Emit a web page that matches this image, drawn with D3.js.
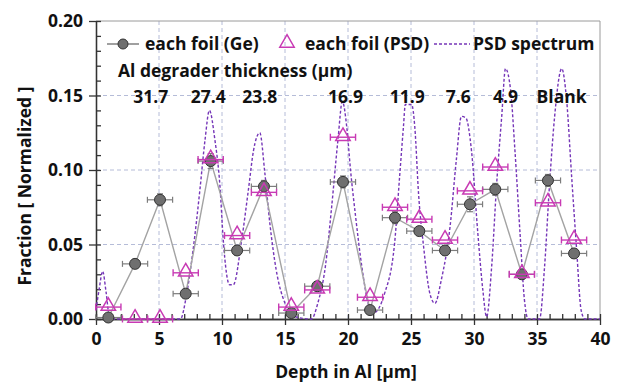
<!DOCTYPE html>
<html>
<head>
<meta charset="utf-8">
<script src="https://cdn.jsdelivr.net/npm/d3@7"></script>
<style>
  body { margin: 0; background: #fff; }
  text { font-family: "Open Sans", "Noto Sans", sans-serif; font-weight: 700; fill: #111; }
</style>
</head>
<body>
<div id="container"></div>
<script>
// depth positions of each foil (µm) and measured fractions
const depth = [0.98, 3.1, 5.08, 7.12, 9.1, 11.2, 13.33, 15.5, 17.56, 19.6, 21.75, 23.73, 25.66, 27.7, 29.68, 31.69, 33.8, 35.87, 37.94];
const geFrac = [0.001, 0.037, 0.080, 0.017, 0.106, 0.046, 0.089, 0.004, 0.022, 0.092, 0.006, 0.068, 0.059, 0.046, 0.077, 0.087, 0.030, 0.093, 0.044];
const geErr = [0.002, 0.003, 0.004, 0.003, 0.005, 0.003, 0.004, 0.002, 0.003, 0.004, 0.002, 0.004, 0.003, 0.003, 0.005, 0.004, 0.003, 0.004, 0.003];
const psdFrac = [0.008, 0, 0, 0.031, 0.107, 0.056, 0.085, 0.008, 0.0195, 0.122, 0.0146, 0.075, 0.067, 0.053, 0.086, 0.102, 0.030, 0.078, 0.053];
const depthErr = 1.0;

// PSD spectrum (dashed curve)
const specX = [0, 0.25, 0.53, 0.8, 1.1, 6.7, 7.2, 7.7, 8.25, 8.65, 9.0, 9.44, 9.84, 10.1, 10.6, 10.9, 11.56, 12.1, 12.5, 13.0, 13.4, 13.8, 14.3, 15.0, 15.8, 17.1, 17.6, 18.2, 18.7, 19.2, 19.55, 19.9, 20.2, 20.6, 21.1, 21.6, 22.0, 22.9, 23.7, 24.1, 24.4, 24.55, 25.05, 25.3, 25.6, 26.0, 26.5, 26.9, 27.4, 28.1, 28.6, 29.0, 29.35, 29.8, 30.3, 30.7, 31.0, 31.4, 31.8, 32.2, 32.5, 32.9, 33.25, 33.65, 34.0, 34.3, 35.2, 35.6, 36.0, 36.4, 36.96, 37.35, 37.75, 38.15, 38.5, 38.8, 40];
const specY = [0.006, 0.02, 0.032, 0.018, 0, 0, 0.017, 0.046, 0.087, 0.12, 0.140, 0.12, 0.089, 0.053, 0.023, 0.023, 0.053, 0.087, 0.113, 0.125, 0.098, 0.064, 0.033, 0.0105, 0.0015, 0, 0.0105, 0.035, 0.075, 0.12, 0.146, 0.129, 0.1, 0.069, 0.035, 0.0105, 0.004, 0.017, 0.051, 0.096, 0.129, 0.144, 0.144, 0.129, 0.084, 0.0485, 0.017, 0.0105, 0.026, 0.062, 0.107, 0.136, 0.135, 0.113, 0.058, 0.0195, 0.0015, 0.035, 0.091, 0.136, 0.168, 0.154, 0.113, 0.058, 0.013, 0, 0, 0.035, 0.091, 0.136, 0.168, 0.147, 0.0955, 0.046, 0.006, 0, 0];

// Al degrader thickness labels
const degLabels = ['31.7', '27.4', '23.8', '16.9', '11.9', '7.6', '4.9', 'Blank'];
const degPos = [4.35, 8.9, 13.0, 19.8, 24.7, 28.75, 32.5, 36.95];

const xTicks = [0, 5, 10, 15, 20, 25, 30, 35, 40];
const yTicks = [0, 0.05, 0.10, 0.15, 0.20];

const width = 620, height = 383;
const FS = 17.5;
const svg = d3.select('#container').append('svg')
    .attr('width', width)
    .attr('height', height);

const x = d3.scaleLinear().domain([0, 40]).range([96, 600]);
const y = d3.scaleLinear().domain([0, 0.2]).range([319, 21]);

//Grid
const grid = svg.append('g').attr('stroke', '#b5bcd8').attr('stroke-dasharray', '4,3').attr('stroke-width', 1);
grid.selectAll('.gx').data(xTicks.slice(1, -1)).enter().append('line')
    .attr('x1', d => x(d)).attr('x2', d => x(d))
    .attr('y1', y(0)).attr('y2', y(0.2));
grid.selectAll('.gy').data(yTicks.slice(1, -1)).enter().append('line')
    .attr('x1', x(0)).attr('x2', x(40))
    .attr('y1', d => y(d)).attr('y2', d => y(d));

//Frame (top/right)
svg.append('path')
    .attr('d', `M${x(0)},${y(0.2)}H${x(40)}V${y(0)}`)
    .attr('fill', 'none').attr('stroke', '#9a9a9a');

//Axes: majors outward, minors inward
const xAxis = svg.append('g').attr('transform', `translate(0,${y(0)})`)
    .call(d3.axisBottom(x).tickValues(xTicks).tickSize(6).tickSizeOuter(0).tickPadding(8).tickFormat(d3.format('d')));
svg.append('g').attr('transform', `translate(0,${y(0)})`)
    .call(d3.axisTop(x).tickValues(d3.range(0, 41, 1)).tickSize(5).tickSizeOuter(0).tickFormat(''));
const yAxis = svg.append('g').attr('transform', `translate(${x(0)},0)`)
    .call(d3.axisLeft(y).tickValues(yTicks).tickSize(7).tickSizeOuter(0).tickPadding(6).tickFormat(d3.format('.2f')));
svg.append('g').attr('transform', `translate(${x(0)},0)`)
    .call(d3.axisRight(y).tickValues(d3.range(0, 0.2001, 0.01)).tickSize(5).tickSizeOuter(0).tickFormat(''));

svg.selectAll('.domain, .tick line').attr('stroke', '#333').attr('stroke-width', 1.3);
svg.selectAll('.tick text').attr('font-size', FS).attr('fill', '#111').attr('font-family', '"Open Sans"');

svg.append('text')
    .attr('x', 346).attr('y', 378)
    .attr('text-anchor', 'middle').attr('font-size', FS)
    .text('Depth in Al [μm]');
svg.append('text')
    .attr('transform', 'translate(31,186) rotate(-90)')
    .attr('text-anchor', 'middle').attr('font-size', FS)
    .text('Fraction [ Normalized ]');

//Spectrum
const spec = specX.map((d, i) => [d, specY[i]]);
svg.append('path')
    .datum(spec)
    .attr('fill', 'none')
    .attr('stroke', '#7536b8')
    .attr('stroke-width', 1.4)
    .attr('stroke-dasharray', '3,2')
    .attr('d', d3.line().x(d => x(d[0])).y(d => y(d[1])).curve(d3.curveMonotoneX));

//Ge series
const ge = depth.map((d, i) => ({ x: d, y: geFrac[i], e: geErr[i] }));
svg.append('path')
    .datum(ge)
    .attr('fill', 'none').attr('stroke', '#a3a3a3').attr('stroke-width', 1.4)
    .attr('d', d3.line().x(d => x(d.x)).y(d => y(d.y)));

const geErrG = svg.append('g').attr('stroke', '#7d7d7d').attr('stroke-width', 1.2);
ge.forEach(d => {
    geErrG.append('line').attr('x1', x(d.x - depthErr)).attr('x2', x(d.x + depthErr)).attr('y1', y(d.y)).attr('y2', y(d.y));
    geErrG.append('line').attr('x1', x(d.x - depthErr)).attr('x2', x(d.x - depthErr)).attr('y1', y(d.y) - 3).attr('y2', y(d.y) + 3);
    geErrG.append('line').attr('x1', x(d.x + depthErr)).attr('x2', x(d.x + depthErr)).attr('y1', y(d.y) - 3).attr('y2', y(d.y) + 3);
    geErrG.append('line').attr('x1', x(d.x)).attr('x2', x(d.x)).attr('y1', y(d.y - d.e)).attr('y2', y(d.y + d.e));
    geErrG.append('line').attr('x1', x(d.x) - 3).attr('x2', x(d.x) + 3).attr('y1', y(d.y + d.e)).attr('y2', y(d.y + d.e));
    geErrG.append('line').attr('x1', x(d.x) - 3).attr('x2', x(d.x) + 3).attr('y1', y(d.y - d.e)).attr('y2', y(d.y - d.e));
});
svg.append('g').selectAll('circle').data(ge).enter().append('circle')
    .attr('cx', d => x(d.x)).attr('cy', d => y(d.y)).attr('r', 5.5)
    .attr('fill', '#6f6f6f').attr('stroke', '#333').attr('stroke-width', 1);

//PSD series
const psd = depth.map((d, i) => ({ x: d, y: psdFrac[i] }));
const magenta = '#c83ab4';
const psdErrG = svg.append('g').attr('stroke', magenta).attr('stroke-width', 1.4);
psd.forEach(d => {
    psdErrG.append('line').attr('x1', x(d.x - depthErr)).attr('x2', x(d.x + depthErr)).attr('y1', y(d.y)).attr('y2', y(d.y));
    psdErrG.append('line').attr('x1', x(d.x - depthErr)).attr('x2', x(d.x - depthErr)).attr('y1', y(d.y) - 3.5).attr('y2', y(d.y) + 3.5);
    psdErrG.append('line').attr('x1', x(d.x + depthErr)).attr('x2', x(d.x + depthErr)).attr('y1', y(d.y) - 3.5).attr('y2', y(d.y) + 3.5);
});
const tri = d3.symbol().type(d3.symbolTriangle).size(90);
svg.append('g').selectAll('path').data(psd).enter().append('path')
    .attr('d', tri)
    .attr('transform', d => `translate(${x(d.x)},${y(d.y) - 1})`)
    .attr('fill', 'none').attr('stroke', magenta).attr('stroke-width', 1.5);

//Legend
const leg = svg.append('g');
leg.append('line').attr('x1', 107).attr('x2', 139).attr('y1', 44).attr('y2', 44).attr('stroke', '#777').attr('stroke-width', 1.4);
leg.append('circle').attr('cx', 123).attr('cy', 44).attr('r', 5).attr('fill', '#6f6f6f').attr('stroke', '#333');
leg.append('text').attr('x', 145).attr('y', 50).attr('font-size', FS).text('each foil (Ge)');
leg.append('path').attr('d', tri).attr('transform', 'translate(287,43)')
    .attr('fill', 'none').attr('stroke', magenta).attr('stroke-width', 1.5);
leg.append('text').attr('x', 305).attr('y', 50).attr('font-size', FS).text('each foil (PSD)');
leg.append('line').attr('x1', 434).attr('x2', 470).attr('y1', 44).attr('y2', 44)
    .attr('stroke', '#7536b8').attr('stroke-width', 1.4).attr('stroke-dasharray', '3,2');
leg.append('text').attr('x', 473).attr('y', 50).attr('font-size', FS).text('PSD spectrum');

//Degrader thickness annotation
svg.append('text').attr('x', 118).attr('y', 77).attr('font-size', FS).text('Al degrader thickness (μm)');
svg.append('g').selectAll('text').data(degLabels).enter().append('text')
    .attr('x', (d, i) => x(degPos[i]))
    .attr('y', 103)
    .attr('text-anchor', 'middle')
    .attr('font-size', FS)
    .text(d => d);
</script>
</body>
</html>
